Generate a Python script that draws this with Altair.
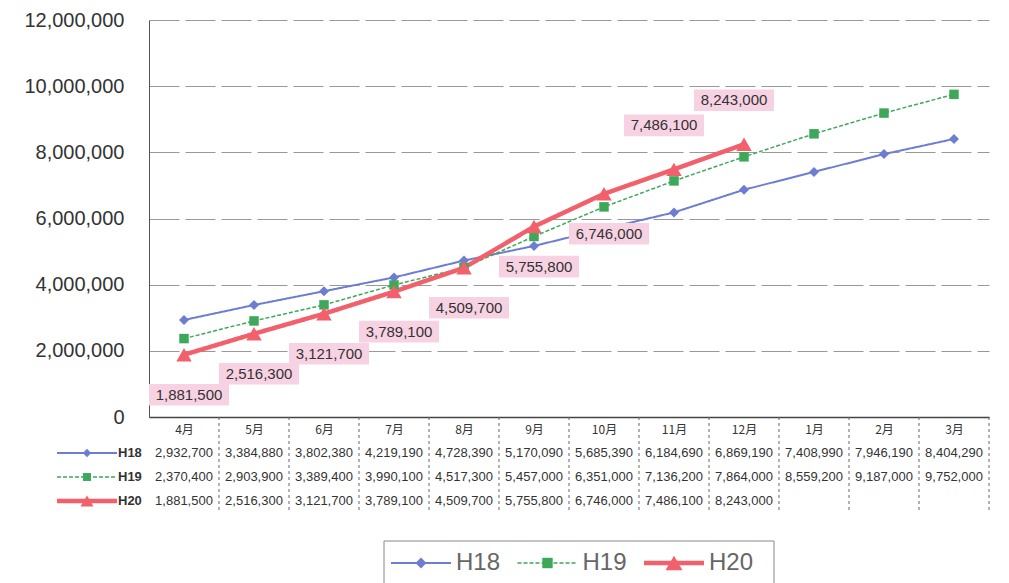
import altair as alt
import pandas as pd

MONTHS = ["4月", "5月", "6月", "7月", "8月", "9月", "10月", "11月", "12月", "1月", "2月", "3月"]
SERIES = ["H18", "H19", "H20"]
H18 = [2932700, 3384880, 3802380, 4219190, 4728390, 5170090, 5685390, 6184690, 6869190, 7408990, 7946190, 8404290]
H19 = [2370400, 2903900, 3389400, 3990100, 4517300, 5457000, 6351000, 7136200, 7864000, 8559200, 9187000, 9752000]
H20 = [1881500, 2516300, 3121700, 3789100, 4509700, 5755800, 6746000, 7486100, 8243000]
Y_TICKS = [0, 2000000, 4000000, 6000000, 8000000, 10000000, 12000000]
ABOVE_LABELS = ["11月", "12月"]

rows = []
for s, vals in zip(SERIES, [H18, H19, H20]):
    for m, v in zip(MONTHS, vals):
        rows.append({"month": m, "series": s, "value": v})
df = pd.DataFrame(rows)
hdr = pd.DataFrame({"series": SERIES})
one = pd.DataFrame({"k": [0]})
seps = pd.DataFrame({"month": MONTHS[1:]})

COLORS = {"H18": "#6d7dd2", "H19": "#3ea85a", "H20": "#f2606c"}
SHAPES = {"H18": "diamond", "H19": "square", "H20": "triangle-up"}
SIZES = {"H18": 100, "H19": 90, "H20": 240}
WIDTHS = {"H18": 2, "H19": 1.5, "H20": 4.5}
DASHES = {"H18": [1, 0], "H19": [4, 2], "H20": [1, 0]}
BOX = "M-1,-0.27H1V0.27H-1Z"
PINK = "#f7d2e2"

W, H = 840, 397
FONT = "Liberation Sans"
CJK = "Noto Sans CJK JP"

xs = alt.Scale(type="point", domain=MONTHS, padding=0.5)
ys = alt.Scale(domain=[0, 12000000])

layers = []
for s in SERIES:
    base = alt.Chart(df).transform_filter(alt.datum.series == s)
    layers.append(base.mark_line(color=COLORS[s], strokeWidth=WIDTHS[s], strokeDash=DASHES[s]).encode(
        x=alt.X("month:N", scale=xs, sort=MONTHS,
                axis=alt.Axis(title=None, ticks=False, labelFont=CJK, labelFontSize=12, labelColor="#333",
                              labelPadding=7, domainColor="#444", domainWidth=1.5, labelAngle=0, grid=False)),
        y=alt.Y("value:Q", scale=ys,
                axis=alt.Axis(title=None, values=Y_TICKS, format=",.0f", labelFont=FONT, labelFontSize=20,
                              labelColor="#333", labelPadding=25, ticks=False, domainColor="#555",
                              grid=True, gridColor="#999", gridDash=[30, 6])),
    ))
for s in SERIES:
    base = alt.Chart(df).transform_filter(alt.datum.series == s)
    layers.append(base.mark_point(shape=SHAPES[s], filled=True, opacity=1, color=COLORS[s], size=SIZES[s]).encode(
        x=alt.X("month:N", scale=xs, sort=MONTHS), y=alt.Y("value:Q", scale=ys)))

lab = alt.Chart(df).transform_filter(alt.datum.series == "H20")
below = lab.transform_filter(~alt.FieldOneOfPredicate(field="month", oneOf=ABOVE_LABELS))
above = lab.transform_filter(alt.FieldOneOfPredicate(field="month", oneOf=ABOVE_LABELS))
for part, dy, dx in [(below, 40, 5), (above, -44, -10)]:
    layers.append(part.mark_point(shape=BOX, size=6400, filled=True, fill=PINK, opacity=1, strokeWidth=0,
                                  xOffset=dx, yOffset=dy).encode(
        x=alt.X("month:N", scale=xs, sort=MONTHS), y=alt.Y("value:Q", scale=ys)))
    layers.append(part.mark_text(font=FONT, fontSize=15, color="#333", xOffset=dx, yOffset=dy).encode(
        x=alt.X("month:N", scale=xs, sort=MONTHS), y=alt.Y("value:Q", scale=ys),
        text=alt.Text("value:Q", format=",")))
# separators in the month-label row
layers.append(alt.Chart(seps).mark_rule(color="#666", strokeDash=[3, 3], xOffset=-35).encode(
    x=alt.X("month:N", scale=xs, sort=MONTHS), y=alt.value(H), y2=alt.value(H + 22)))
layers.append(alt.Chart(one).mark_rule(color="#666", strokeDash=[3, 3]).encode(
    x=alt.value(W), y=alt.value(H), y2=alt.value(H + 22)))

main = alt.layer(*layers).properties(width=W, height=H)

# ---- data table ----
rs = alt.Scale(type="point", domain=SERIES, padding=0.5)
TH = 72
tlayers = [
    alt.Chart(df).mark_text(font=FONT, fontSize=13, color="#333").encode(
        x=alt.X("month:N", scale=xs, sort=MONTHS, axis=None),
        y=alt.Y("series:N", scale=rs, axis=None),
        text=alt.Text("value:Q", format=",")),
    alt.Chart(seps).mark_rule(color="#666", strokeDash=[3, 3], xOffset=-35).encode(
        x=alt.X("month:N", scale=xs, sort=MONTHS), y=alt.value(0), y2=alt.value(TH)),
    alt.Chart(one).mark_rule(color="#666", strokeDash=[3, 3]).encode(
        x=alt.value(W), y=alt.value(0), y2=alt.value(TH)),
]
for s in SERIES:
    h = alt.Chart(hdr).transform_filter(alt.datum.series == s)
    tlayers.append(h.mark_rule(color=COLORS[s], strokeWidth=WIDTHS[s], strokeDash=DASHES[s]).encode(
        x=alt.value(-92), x2=alt.value(-32), y=alt.Y("series:N", scale=rs)))
    tlayers.append(h.mark_point(shape=SHAPES[s], filled=True, opacity=1, color=COLORS[s],
                                size=SIZES[s] * 0.7).encode(
        x=alt.value(-62), y=alt.Y("series:N", scale=rs)))
tlayers.append(alt.Chart(hdr).mark_text(font=FONT, fontSize=13, fontWeight="bold", color="#333", align="left").encode(
    x=alt.value(-31), y=alt.Y("series:N", scale=rs), text="series:N"))
table = alt.layer(*tlayers).properties(width=W, height=TH)

# ---- legend ----
ls = alt.Scale(type="point", domain=SERIES, range=[272, 525], padding=0)
LY = 49
llayers = [
    alt.Chart(one).mark_rect(fill="white", stroke="#888", strokeWidth=1).encode(
        x=alt.value(235), x2=alt.value(625), y=alt.value(27), y2=alt.value(90)),
]
for s in SERIES:
    h = alt.Chart(hdr).transform_filter(alt.datum.series == s)
    llayers.append(h.mark_rule(color=COLORS[s], strokeWidth=WIDTHS[s], strokeDash=DASHES[s],
                               xOffset=-30, x2Offset=30).encode(
        x=alt.X("series:N", scale=ls, axis=None), x2=alt.X2("series:N"), y=alt.value(LY)))
    llayers.append(h.mark_point(shape=SHAPES[s], filled=True, opacity=1, color=COLORS[s],
                                size=SIZES[s] * 1.2).encode(
        x=alt.X("series:N", scale=ls, axis=None), y=alt.value(LY)))
llayers.append(alt.Chart(hdr).mark_text(font=FONT, fontSize=24, color="#666", align="left", xOffset=35).encode(
    x=alt.X("series:N", scale=ls, axis=None), y=alt.value(LY), text="series:N"))
legend = alt.layer(*llayers).properties(width=W, height=60)

chart = alt.vconcat(main, table, legend, spacing=0).configure(
    padding={"left": 15, "top": 2, "right": 2, "bottom": 0}
).configure_view(stroke=None)

chart.save("out.html", embed_options={"renderer": "svg", "actions": False})
